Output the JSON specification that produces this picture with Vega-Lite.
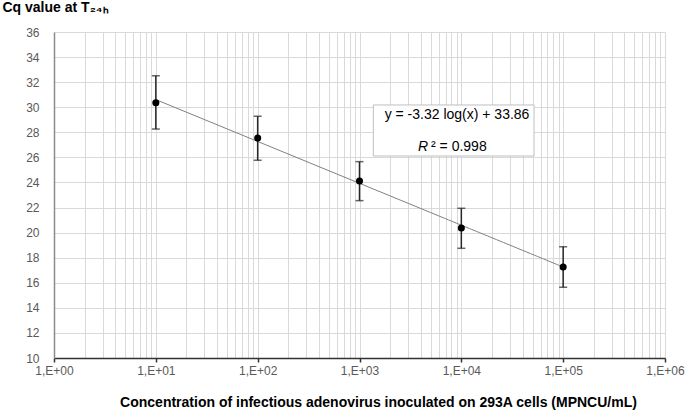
{
  "$schema": "https://vega.github.io/schema/vega-lite/v6.json",
  "width": 611,
  "height": 326,
  "autosize": {"type": "none"},
  "padding": {"left": 54, "top": 32, "right": 20, "bottom": 55},
  "background": "white",
  "config": {
    "view": {"stroke": null},
    "font": "Liberation Sans",
    "axis": {"labelFont": "Liberation Sans", "titleFont": "Liberation Sans"}
  },
  "datasets": {
    "pts": [
      {"x": 10, "y": 30.36, "lo": 28.26, "hi": 32.51},
      {"x": 100, "y": 27.55, "lo": 25.77, "hi": 29.28},
      {"x": 1000, "y": 24.12, "lo": 22.55, "hi": 25.66},
      {"x": 10000, "y": 20.37, "lo": 18.75, "hi": 21.94},
      {"x": 100000, "y": 17.26, "lo": 15.64, "hi": 18.88}
    ],
    "box": [{"x": 1367, "x2": 51760, "y": 30.18, "y2": 26.11}],
    "notes": [
      {"x": 9070, "y": 29.38, "label": "y = -3.32 log(x) + 33.86", "part": "eq"},
      {"x": 4710, "y": 26.83, "label": "R", "part": "r"},
      {"x": 5040, "y": 26.83, "label": "² = 0.998", "part": "r2"}
    ]
  },
  "encoding": {
    "x": {
      "field": "x",
      "type": "quantitative",
      "scale": {"type": "log", "domain": [1, 1000000], "nice": false},
      "axis": {
        "values": [1,2,3,4,5,6,7,8,9,10,20,30,40,50,60,70,80,90,100,200,300,400,500,600,700,800,900,1000,2000,3000,4000,5000,6000,7000,8000,9000,10000,20000,30000,40000,50000,60000,70000,80000,90000,100000,200000,300000,400000,500000,600000,700000,800000,900000,1000000],
        "labelExpr": "abs(log(datum.value)/LN10 - round(log(datum.value)/LN10)) < 0.001 ? '1,E+0' + round(log(datum.value)/LN10) : ''",
        "labelOverlap": false,
        "labelFlush": false,
        "labelFontSize": 12,
        "labelColor": "#595959",
        "labelPadding": 3,
        "tickSize": {"condition": {"test": "abs(log(datum.value)/LN10 - round(log(datum.value)/LN10)) < 0.001", "value": 4}, "value": 0},
        "tickColor": "#333333",
        "tickWidth": 1.5,
        "grid": true,
        "gridColor": "#d9d9d9",
        "gridWidth": 1,
        "domainColor": "#333333",
        "domainWidth": 1.5,
        "title": "Concentration of infectious adenovirus inoculated on 293A cells (MPNCU/mL)",
        "titleFontSize": 14,
        "titleFontWeight": "bold",
        "titleColor": "#000000",
        "titleX": 324,
        "titleAlign": "center",
        "titlePadding": 19
      }
    },
    "y": {
      "field": "y",
      "type": "quantitative",
      "scale": {"domain": [10, 36], "nice": false, "zero": false},
      "axis": {
        "values": [10,12,14,16,18,20,22,24,26,28,30,32,34,36],
        "ticks": false,
        "labelPadding": 15,
        "labelFontSize": 12,
        "labelColor": "#595959",
        "grid": true,
        "gridColor": "#d9d9d9",
        "gridWidth": 1,
        "domainColor": "#8c8c8c",
        "domainWidth": 1.5,
        "title": "Cq value at T₂₄ₕ",
        "titleFontSize": 14,
        "titleFontWeight": "bold",
        "titleColor": "#000000",
        "titleAngle": 0,
        "titleAlign": "left",
        "titleBaseline": "middle",
        "titleX": -52,
        "titleY": -25
      }
    }
  },
  "layer": [
    {
      "data": {"name": "box"},
      "mark": {"type": "rect", "fill": "white", "stroke": "#bfbfbf", "strokeWidth": 1},
      "encoding": {"x2": {"field": "x2"}, "y2": {"field": "y2"}}
    },
    {
      "data": {"name": "notes"},
      "transform": [{"filter": "datum.part == 'eq'"}],
      "mark": {"type": "text", "align": "center", "baseline": "middle", "fontSize": 14, "color": "#000000"},
      "encoding": {"text": {"field": "label"}}
    },
    {
      "data": {"name": "notes"},
      "transform": [{"filter": "datum.part == 'r'"}],
      "mark": {"type": "text", "align": "right", "baseline": "middle", "fontSize": 14, "fontStyle": "italic", "color": "#000000"},
      "encoding": {"text": {"field": "label"}}
    },
    {
      "data": {"name": "notes"},
      "transform": [{"filter": "datum.part == 'r2'"}],
      "mark": {"type": "text", "align": "left", "baseline": "middle", "fontSize": 14, "color": "#000000"},
      "encoding": {"text": {"field": "label"}}
    },
    {
      "data": {"name": "pts"},
      "transform": [{"regression": "y", "on": "x", "method": "log", "extent": [10, 100000]}],
      "mark": {"type": "line", "color": "#808080", "strokeWidth": 1}
    },
    {
      "data": {"name": "pts"},
      "mark": {"type": "errorbar", "ticks": {"size": 8, "color": "#262626", "thickness": 1.5}, "color": "#262626", "thickness": 1.5},
      "encoding": {"y": {"field": "lo", "type": "quantitative"}, "y2": {"field": "hi"}}
    },
    {
      "data": {"name": "pts"},
      "mark": {"type": "circle", "color": "#000000", "size": 50, "opacity": 1}
    }
  ]
}
